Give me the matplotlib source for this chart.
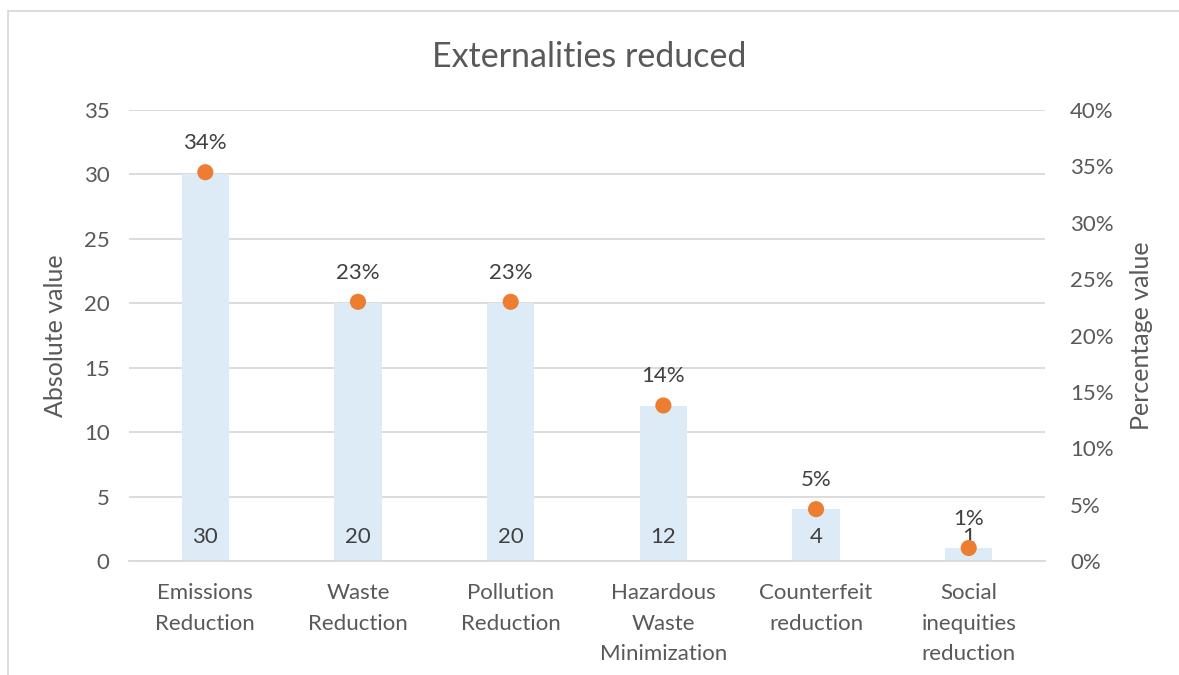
import matplotlib.pyplot as plt
from matplotlib.lines import Line2D

categories = ['Emissions\nReduction', 'Waste\nReduction', 'Pollution\nReduction',
              'Hazardous\nWaste\nMinimization', 'Counterfeit\nreduction',
              'Social\ninequities\nreduction']
absolute = [30, 20, 20, 12, 4, 1]
percent_labels = ['34%', '23%', '23%', '14%', '5%', '1%']

total = sum(absolute)
percent = [v / total for v in absolute]

plt.rcParams['font.family'] = ['Lato', 'DejaVu Sans']
grey = '#595959'
fs = 16

fig = plt.figure(figsize=(11.79, 6.75), dpi=100)
ax = fig.add_axes([0.1094, 0.1689, 0.777, 0.6681])
ax2 = ax.twinx()

x = list(range(len(categories)))
ax.bar(x, absolute, width=0.31, color='#DDEBF7', zorder=2)
ax.set_xlim(-0.5, len(categories) - 0.5)
ax.set_ylim(0, 35)
ax.set_yticks(range(0, 36, 5))
ax.yaxis.grid(True, color='#D9D9D9', linewidth=1.3, zorder=0)
ax.set_axisbelow(True)
ax.set_xticks(x)
ax.set_xticklabels(categories, fontsize=fs, color=grey, linespacing=1.65)
ax.tick_params(axis='both', length=0, labelsize=fs, labelcolor=grey, pad=14)
ax.tick_params(axis='x', pad=16)
ax.set_ylabel('Absolute value', fontsize=18, color=grey, labelpad=12)

for i, v in enumerate(absolute):
    ax.annotate(str(v), (i, 0), xytext=(0, 17.5), textcoords='offset points',
                ha='center', va='center', fontsize=fs, color='#404040', zorder=5)

ax2.scatter(x, percent, s=135, color='#ED7D31', zorder=4, edgecolors='none')
ax2.set_ylim(0, 0.40)
ax2.set_yticks([i / 100 for i in range(0, 41, 5)])
ax2.set_yticklabels([f'{i}%' for i in range(0, 41, 5)])
ax2.tick_params(axis='y', length=0, labelsize=fs, labelcolor=grey, pad=18)
ax2.set_ylabel('Percentage value', fontsize=18, color=grey, labelpad=12)

for i, p in enumerate(percent):
    ax2.annotate(percent_labels[i], (i, p), xytext=(0, 21), textcoords='offset points',
                 ha='center', va='center', fontsize=fs, color='#404040', zorder=5)

for a in (ax, ax2):
    for s in a.spines.values():
        s.set_visible(False)
ax.spines['bottom'].set_visible(True)
ax.spines['bottom'].set_color('#D9D9D9')
ax.spines['bottom'].set_linewidth(1.3)

fig.text(0.5, 0.915, 'Externalities reduced', ha='center', va='center',
         fontsize=24.5, color=grey)

# outer chart frame (top and left edges)
fig.add_artist(Line2D([8 / 1179, 1.0], [1 - 11 / 675] * 2, transform=fig.transFigure,
                      color='#D9D9D9', linewidth=1.3))
fig.add_artist(Line2D([8 / 1179] * 2, [0, 1 - 11 / 675], transform=fig.transFigure,
                      color='#D9D9D9', linewidth=1.3))

fig.savefig('out.png', dpi=100)
